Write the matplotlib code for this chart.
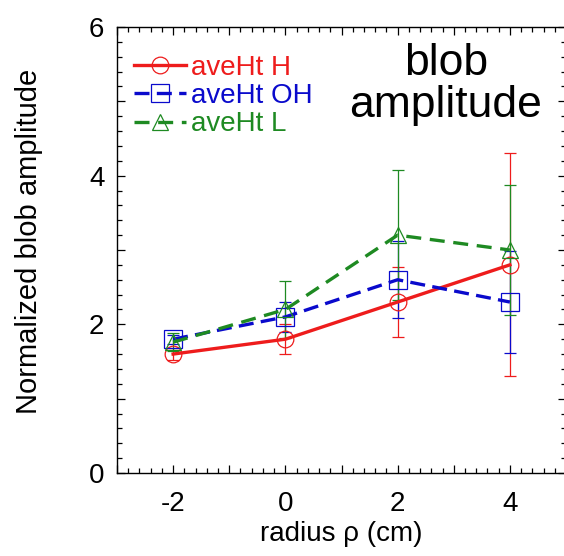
import numpy as np
import matplotlib
matplotlib.use('Agg')
import matplotlib.pyplot as plt
from matplotlib.lines import Line2D
from matplotlib.ticker import MultipleLocator, FuncFormatter

plt.rcParams['font.family'] = ['Liberation Sans', 'DejaVu Sans']

# radius positions (cm)
radius = [-2, 0, 2, 4]

# normalized blob amplitude and error bars
amp_H = [1.6, 1.8, 2.3, 2.8]
err_H = [0.08, 0.2, 0.47, 1.5]
amp_OH = [1.8, 2.1, 2.6, 2.3]
err_OH = [0.06, 0.2, 0.52, 0.68]
amp_L = [1.76, 2.2, 3.2, 3.0]
err_L = [0.12, 0.38, 0.87, 0.88]

labels = ['aveHt H', 'aveHt OH', 'aveHt L']

red = '#ee1c1c'
blue = '#0a0acc'
green = '#1e8a22'
styles = ['-', (0, (4.5, 2.2)), (0, (4.5, 2.6))]
markers = ['o', 's', '^']
sizes = [12, 13, 12]

fig = plt.figure(figsize=(5.64, 5.56), dpi=100)
ax = fig.add_axes([117/564, 83/556, 449/564, 446/556])

handles = []
for amp, err, col, ls, mk, ms, lab in zip([amp_H, amp_OH, amp_L], [err_H, err_OH, err_L],
                                          [red, blue, green], styles, markers, sizes, labels):
    ax.errorbar(radius, amp, yerr=err, color=col, lw=2.4, ls=ls,
                marker=mk, ms=ms, mfc='none', mec=col, mew=0.9,
                ecolor=col, elinewidth=0.9, capsize=4, capthick=0.9)
    handles.append(Line2D([], [], color=col, lw=2.4, ls=ls, marker=mk, ms=ms,
                          mfc='none', mec=col, mew=0.9, label=lab))

ax.set_xlim(-3, 5)
ax.set_ylim(0, 6)
ax.xaxis.set_major_locator(MultipleLocator(1))
ax.xaxis.set_minor_locator(MultipleLocator(0.2))
ax.yaxis.set_major_locator(MultipleLocator(1))
ax.yaxis.set_minor_locator(MultipleLocator(0.2))
even = FuncFormatter(lambda v, p: '%d' % round(v) if round(v) % 2 == 0 else '')
ax.xaxis.set_major_formatter(even)
ax.yaxis.set_major_formatter(even)
ax.tick_params(which='both', direction='in', top=True, right=True, width=0.9, labelsize=20)
ax.tick_params(which='major', length=6)
ax.tick_params(which='minor', length=3.5)
ax.tick_params(axis='x', which='major', pad=13)
ax.tick_params(axis='y', which='major', pad=9)
for s in ax.spines.values():
    s.set_linewidth(1.0)

ax.set_xlabel('radius \u03c1 (cm)', fontsize=20, labelpad=3)
ax.set_ylabel('Normalized blob amplitude', fontsize=21)
ax.yaxis.set_label_coords(-0.165, 0.52)

leg = ax.legend(handles=handles, loc='upper left', bbox_to_anchor=(0.0, 0.975), frameon=False,
                fontsize=20, handlelength=1.9, handletextpad=0.15, labelspacing=0.08,
                borderaxespad=0.2, labelcolor=[red, blue, green])

fig.text(446/564, 1 - 75/556, 'blob', fontsize=32, ha='center', va='baseline')
fig.text(446/564, 1 - 117/556, 'amplitude', fontsize=32, ha='center', va='baseline')

fig.savefig('out.png', dpi=100)
